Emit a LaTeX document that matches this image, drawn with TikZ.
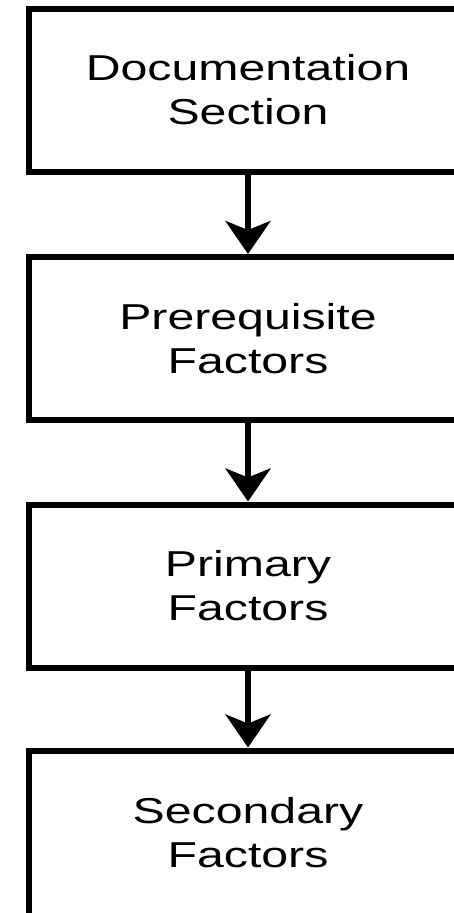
\documentclass[tikz,border=0pt]{standalone}
\usepackage{fontspec}
\setmainfont{Liberation Sans}[FakeStretch=1.34]
\usetikzlibrary{arrows.meta}
\tikzset{
  flowbox/.style={draw=black, line width=6pt, fill=white, rectangle,
    minimum width=439pt, minimum height=163pt, align=center,
    font=\fontsize{36}{44}\selectfont, inner sep=0pt},
  flowarrow/.style={line width=6.5pt, -{Stealth[length=33pt,width=45pt,inset=9pt]}}
}
\begin{document}
\begin{tikzpicture}[x=1pt,y=1pt]
\useasboundingbox (0,0) rectangle (454,-913);
\clip (0,0) rectangle (454,-913);
\fill[white] (0,0) rectangle (454,-913);
\node[flowbox] (b1) at (248,-90) {Documentation\\Section};
\node[flowbox] (b2) at (248,-338.5) {Prerequisite\\Factors};
\node[flowbox] (b3) at (248,-586) {Primary\\Factors};
\node[flowbox, minimum height=165pt] (b4) at (248,-833) {Secondary\\Factors};
\draw[flowarrow] (b1.south) -- (b2.north);
\draw[flowarrow] (b2.south) -- (b3.north);
\draw[flowarrow] (b3.south) -- (b4.north);
\end{tikzpicture}
\end{document}
